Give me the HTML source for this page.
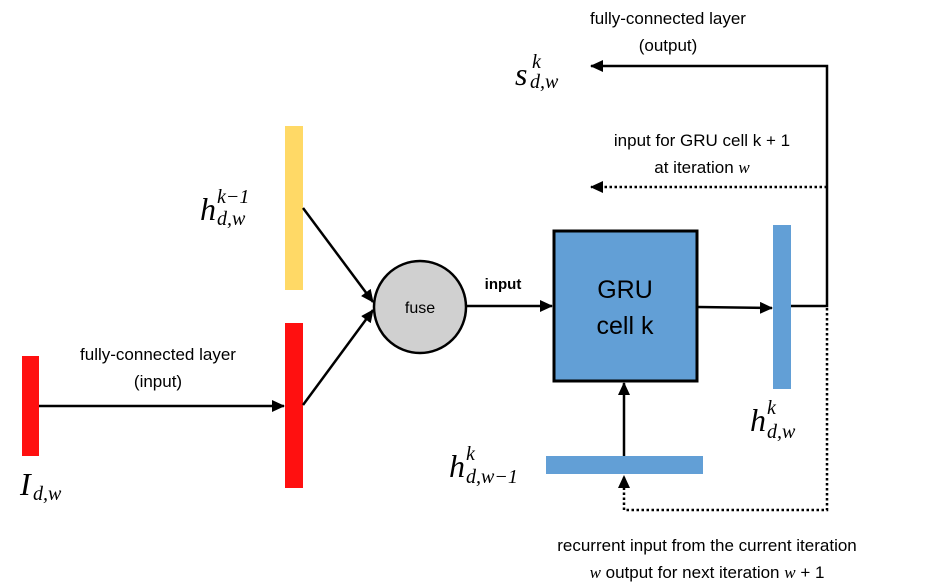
<!DOCTYPE html>
<html><head><meta charset="utf-8"><style>
html,body{margin:0;padding:0;background:#fff;width:929px;height:587px;overflow:hidden}
svg{display:block}
text{font-family:"Liberation Sans",sans-serif;fill:#000}
.m{font-family:"Liberation Serif",serif;font-style:italic}
</style></head><body>
<svg width="929" height="587" viewBox="0 0 929 587" xmlns="http://www.w3.org/2000/svg">
<defs>
<marker id="a" markerWidth="13" markerHeight="12" refX="12" refY="6" orient="auto" markerUnits="userSpaceOnUse"><path d="M0,0 L13,6 L0,12 z" fill="#000"/></marker>
</defs>
<rect x="285" y="126" width="18" height="164" fill="#FFD966"/>
<rect x="285" y="323" width="18" height="165" fill="#FF1010"/>
<rect x="22" y="356" width="17" height="100" fill="#FF1010"/>
<rect x="773" y="225" width="18" height="164" fill="#629FD6"/>
<rect x="546" y="456" width="157" height="18" fill="#629FD6"/>
<line x1="39" y1="406" x2="284" y2="406" stroke="#000" stroke-width="2.5" marker-end="url(#a)"/>
<line x1="303" y1="208" x2="373" y2="302" stroke="#000" stroke-width="2.5" marker-end="url(#a)"/>
<line x1="303" y1="405" x2="373" y2="310" stroke="#000" stroke-width="2.5" marker-end="url(#a)"/>
<circle cx="420" cy="307" r="46" fill="#D0D0D0" stroke="#000" stroke-width="2.5"/>
<text x="420" y="313" font-size="16" text-anchor="middle">fuse</text>
<line x1="466" y1="306" x2="552" y2="306" stroke="#000" stroke-width="2.5" marker-end="url(#a)"/>
<text x="503" y="289" font-size="15" font-weight="bold" text-anchor="middle">input</text>
<rect x="554" y="231" width="143" height="150" fill="#629FD6" stroke="#000" stroke-width="3"/>
<text x="625" y="298" font-size="25" text-anchor="middle">GRU</text>
<text x="625" y="334" font-size="25" text-anchor="middle">cell k</text>
<line x1="698" y1="307" x2="772" y2="308" stroke="#000" stroke-width="2.5" marker-end="url(#a)"/>
<line x1="624" y1="456" x2="624" y2="383" stroke="#000" stroke-width="2.5" marker-end="url(#a)"/>
<polyline points="791,306 827,306 827,66 591,66" fill="none" stroke="#000" stroke-width="2.5" marker-end="url(#a)"/>
<line x1="827" y1="187" x2="591" y2="187" stroke="#000" stroke-width="2.5" stroke-dasharray="2.5,2.5" marker-end="url(#a)"/>
<polyline points="827,308 827,510 624,510 624,476" fill="none" stroke="#000" stroke-width="2.5" stroke-dasharray="2.5,2.5" marker-end="url(#a)"/>
<text x="668" y="24" font-size="17" text-anchor="middle">fully-connected layer</text>
<text x="668" y="51" font-size="17" text-anchor="middle">(output)</text>
<text x="702" y="146" font-size="17" text-anchor="middle">input for GRU cell k + 1</text>
<text x="702" y="173" font-size="17" text-anchor="middle">at iteration <tspan class="m">w</tspan></text>
<text x="158" y="360" font-size="17" text-anchor="middle">fully-connected layer</text>
<text x="158" y="387" font-size="17" text-anchor="middle">(input)</text>
<text x="707" y="551" font-size="17" text-anchor="middle">recurrent input from the current iteration</text>
<text x="707" y="578" font-size="17" text-anchor="middle"><tspan class="m">w</tspan> output for next iteration <tspan class="m">w</tspan> + 1</text>
<text class="m" x="515" y="85" font-size="32">s</text>
<text class="m" x="532" y="68" font-size="20">k</text>
<text class="m" x="530" y="88" font-size="20">d,w</text>
<text class="m" x="200" y="220" font-size="32">h</text>
<text class="m" x="217" y="203" font-size="20">k−1</text>
<text class="m" x="217" y="225" font-size="20">d,w</text>
<text class="m" x="20" y="495" font-size="32">I</text>
<text class="m" x="33" y="500" font-size="20">d,w</text>
<text class="m" x="750" y="431" font-size="32">h</text>
<text class="m" x="767" y="414" font-size="20">k</text>
<text class="m" x="767" y="438" font-size="20">d,w</text>
<text class="m" x="449" y="477" font-size="32">h</text>
<text class="m" x="466" y="460" font-size="20">k</text>
<text class="m" x="466" y="483" font-size="20">d,w−1</text>
</svg>
</body></html>
